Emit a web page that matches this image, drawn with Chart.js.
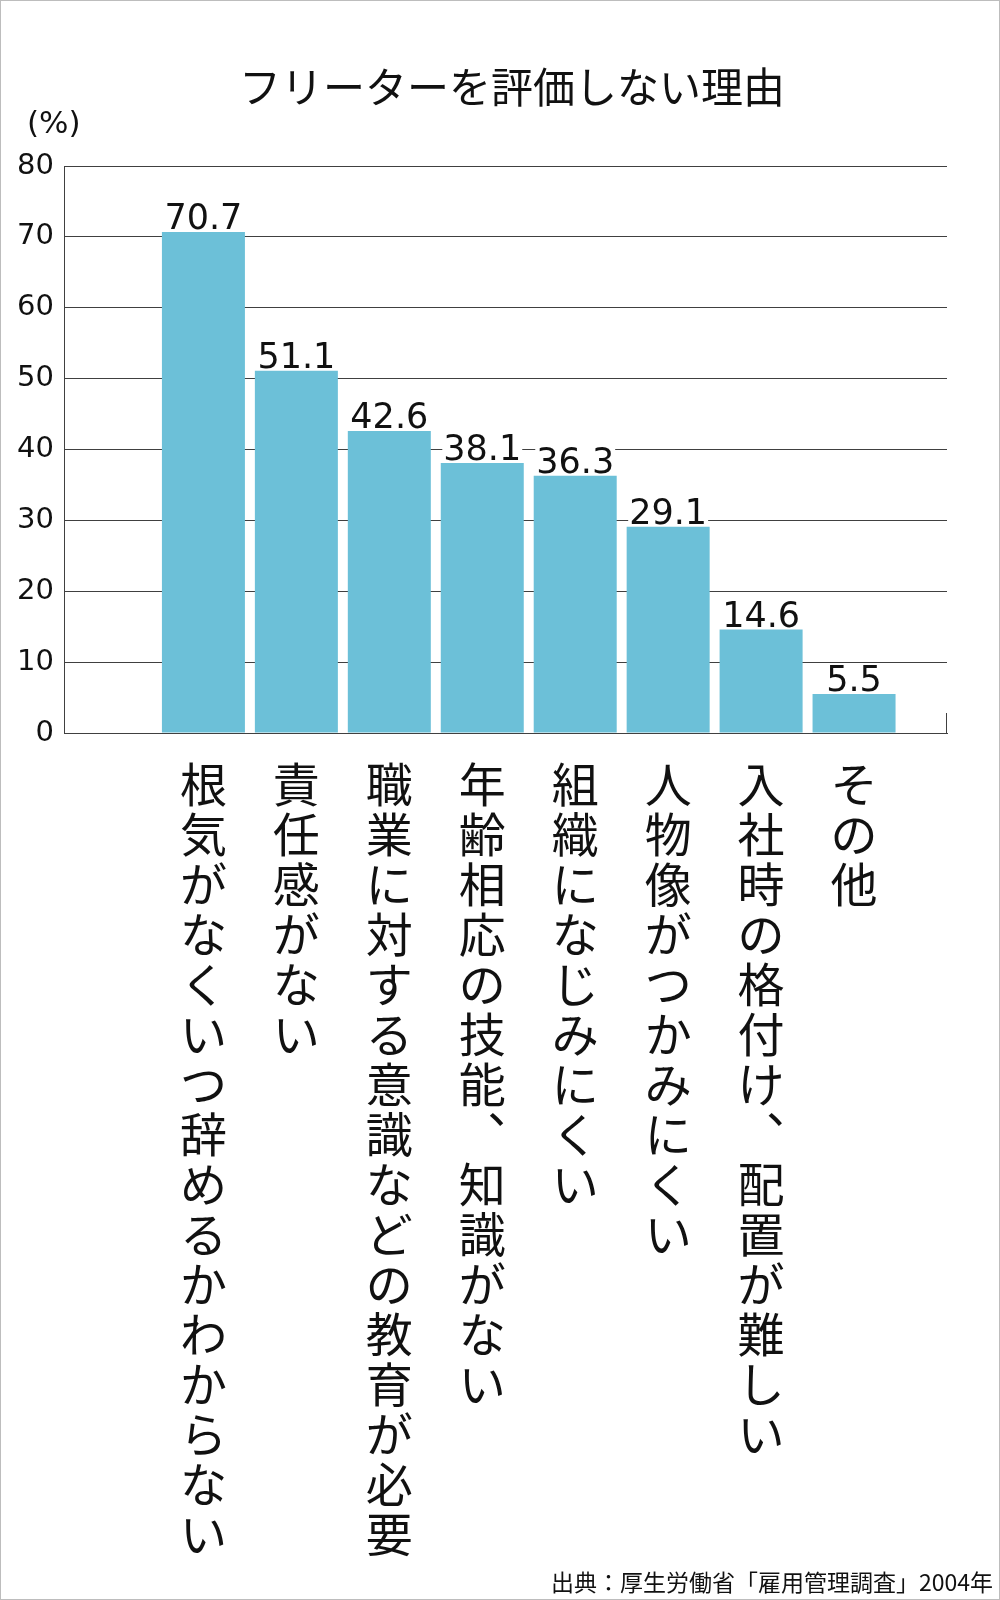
<!DOCTYPE html>
<html lang="ja">
<head>
<meta charset="utf-8">
<script src="https://cdn.jsdelivr.net/npm/chart.js@4.4.1/dist/chart.umd.min.js"></script>
<style>
  html, body { margin: 0; padding: 0; background: #fff; }
  #wrap { position: relative; width: 1000px; height: 1600px; overflow: hidden; }
  #frame { position: absolute; left: 0; top: 0; width: 998px; height: 1598px; border: 1px solid #bdbdbd; pointer-events: none; }
  canvas { position: absolute; left: 0; top: 0; }
  .txt { position: absolute; white-space: nowrap; color: #111; font-family: "Noto Sans CJK JP", "DejaVu Sans", sans-serif; }
  #title { left: 0; width: 1024px; text-align: center; top: 60px; font-size: 42px; line-height: 50px; }
  #unit { left: 27px; top: 102px; font-size: 31px; line-height: 40px; font-family: "DejaVu Sans", "Noto Sans CJK JP", sans-serif; }
  #source { right: 7px; top: 1566px; font-size: 23px; line-height: 30px; }
</style>
</head>
<body>
<div id="wrap">
  <canvas id="c" width="1000" height="1600"></canvas>
  <div id="title" class="txt">フリーターを評価しない理由</div>
  <div id="unit" class="txt">(%)</div>
  <div id="source" class="txt">出典：厚生労働省「雇用管理調査」2004年</div>
  <div id="frame"></div>
</div>
<script>
// ---- data ----
const categories = [
  "根気がなくいつ辞めるかわからない",
  "責任感がない",
  "職業に対する意識などの教育が必要",
  "年齢相応の技能、知識がない",
  "組織になじみにくい",
  "人物像がつかみにくい",
  "入社時の格付け、配置が難しい",
  "その他"
];
const values = [70.7, 51.1, 42.6, 38.1, 36.3, 29.1, 14.6, 5.5];
const yTicks = [0, 10, 20, 30, 40, 50, 60, 70, 80];

// ---- layout constants (not data) ----
const FIRST_SLOT = 1.5;   // one empty slot on the left in the original
const X_MAX = categories.length + 1.5;
const slotPositions = categories.map((_, i) => i + FIRST_SLOT);

// vertical writing: one character per line, comma in its vertical form
const verticalLines = (s) => Array.from(s).map(ch => ch === '、' ? '\uFE11' : ch);

const valueLabels = {
  id: 'valueLabels',
  afterDatasetsDraw(chart) {
    const ctx = chart.ctx;
    const meta = chart.getDatasetMeta(0);
    ctx.save();
    ctx.font = '35px "DejaVu Sans", sans-serif';
    ctx.textAlign = 'center';
    ctx.textBaseline = 'alphabetic';
    meta.data.forEach((bar, i) => {
      const t = values[i].toFixed(1);
      const w = ctx.measureText(t).width;
      const base = bar.y - 3;
      ctx.fillStyle = '#ffffff';
      ctx.fillRect(bar.x - w / 2 - 1, base - 27, w + 2, 27);
      ctx.fillStyle = '#111';
      ctx.fillText(t, bar.x, base);
    });
    // short end tick at the right end of the category axis
    const xs = chart.scales.x, ys = chart.scales.y;
    const y0 = ys.getPixelForValue(0);
    ctx.strokeStyle = '#404040';
    ctx.lineWidth = 1;
    ctx.beginPath();
    ctx.moveTo(Math.round(xs.right) - 0.5, y0);
    ctx.lineTo(Math.round(xs.right) - 0.5, y0 - 20);
    ctx.stroke();
    ctx.restore();
  }
};

new Chart(document.getElementById('c'), {
  type: 'bar',
  data: {
    datasets: [{
      data: values.map((v, i) => ({ x: slotPositions[i], y: v })),
      backgroundColor: '#6cc0d8',
      borderWidth: 0,
      categoryPercentage: 1,
      barPercentage: 0.893
    }]
  },
  options: {
    responsive: false,
    devicePixelRatio: 1,
    animation: false,
    layout: { padding: { left: 0, right: 53, top: 166, bottom: 41 } },
    plugins: { legend: { display: false }, tooltip: { enabled: false }, title: { display: false } },
    scales: {
      x: {
        type: 'linear',
        offset: false,
        min: 0,
        max: X_MAX,
        bounds: 'data',
        afterBuildTicks: (s) => { s.ticks = slotPositions.map(v => ({ value: v })); },
        afterFit: (s) => { s.height = 826; },
        grid: { display: false, drawTicks: false, offset: false },
        border: { display: true, color: '#404040', width: 1 },
        ticks: {
          autoSkip: false,
          maxRotation: 0,
          minRotation: 0,
          padding: 26,
          color: '#111',
          font: { family: '"Noto Sans CJK JP", sans-serif', size: 47, lineHeight: 50 / 47 },
          callback: (v, i) => verticalLines(categories[i] || '')
        }
      },
      y: {
        min: 0,
        max: 80,
        afterFit: (s) => { s.width = 64; },
        grid: {
          drawTicks: false,
          color: (c) => (c.tick && yTicks.includes(c.tick.value)) ? '#404040' : '#d9d9d9',
          lineWidth: 1
        },
        border: { display: true, color: '#404040', width: 1 },
        ticks: {
          stepSize: 5,
          padding: 10,
          color: '#111',
          font: { family: '"DejaVu Sans", sans-serif', size: 29 },
          callback: (v) => yTicks.includes(v) ? String(v) : ''
        }
      }
    }
  },
  plugins: [valueLabels]
});
</script>
</body>
</html>
